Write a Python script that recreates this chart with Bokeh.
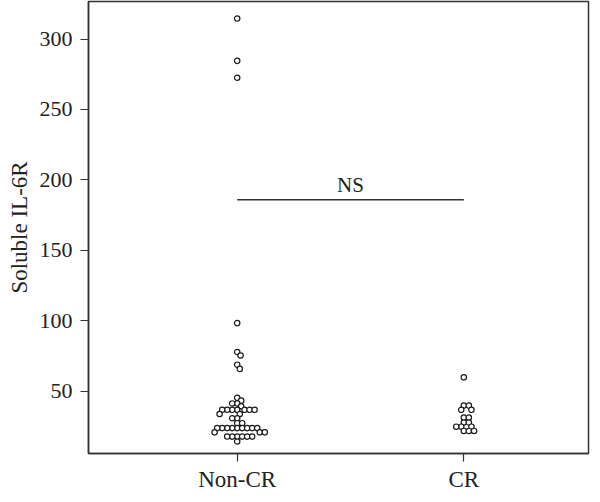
import numpy as np
from bokeh.plotting import figure
from bokeh.models import FixedTicker, ColumnDataSource, Range1d
from bokeh.core.properties import value
from bokeh.embed import file_html
from bokeh.resources import INLINE

# ---- data ----
categories = ["Non-CR", "CR"]
non_cr = [314.5, 284.5, 272.5, 98.5, 78, 75.5, 69, 66,
          45.5, 43.5, 41.5, 41.5, 39.5,
          37, 37, 37, 37, 37, 37, 37,
          34, 34, 31, 31, 27.5, 27.5,
          24, 24, 24, 24, 24, 24, 24, 24, 24,
          21, 21, 21,
          18, 18, 18, 18, 18, 18,
          14.5]
cr = [60, 40, 40, 37, 37, 31.5, 31.5, 28, 28,
      25, 25, 25, 22, 22, 22]
y_ticks = [50, 100, 150, 200, 250, 300]
ns_level = 186
ns_label = "NS"

# ---- layout constants ----
W, H = 590, 494
ML, MR, MT = 88, 2, 1
X0, X1 = 0.344, 2.550
Y0, Y1 = 6.0, 326.6
FRAME_W = W - ML - MR
FRAME_H = 454
XS = FRAME_W / (X1 - X0)
YS = FRAME_H / (Y1 - Y0)
D = 4.9  # marker spacing in px


def swarm(vals):
    placed = []
    offs = []
    for v in vals:
        y = v * YS
        chosen = 0.0
        for step in range(0, 400):
            found = False
            for sgn in (1, -1):
                o = sgn * step * 0.2
                if all((o - px) ** 2 + (y - py) ** 2 >= D * D for px, py in placed):
                    chosen = o
                    found = True
                    break
            if found:
                break
        placed.append((chosen, y))
        offs.append(chosen / XS)
    return offs


xs_all, ys_all = [], []
for i, vals in enumerate([non_cr, cr]):
    offs = swarm(vals)
    xs_all += [i + 1 + o for o in offs]
    ys_all += list(vals)

src = ColumnDataSource(dict(x=xs_all, y=ys_all))

p = figure(width=W, height=H, output_backend="svg", toolbar_location=None,
           x_range=Range1d(X0, X1), y_range=Range1d(Y0, Y1),
           min_border_left=ML, min_border_right=MR, min_border_top=MT, min_border_bottom=30)
p.xgrid.visible = False
p.ygrid.visible = False
p.outline_line_color = "#333333"
p.outline_line_width = 1.5
p.background_fill_color = "white"

FONT = "Liberation Serif"
TXT = "#222222"

p.yaxis.ticker = FixedTicker(ticks=y_ticks)
p.xaxis.ticker = FixedTicker(ticks=[1, 2])
p.xaxis.major_label_overrides = {1: categories[0], 2: categories[1]}
for ax in (p.xaxis, p.yaxis):
    ax.axis_line_color = "#333333"
    ax.axis_line_width = 1.5
    ax.major_tick_line_color = "#333333"
    ax.major_tick_line_width = 1.2
    ax.major_tick_in = 0
    ax.major_tick_out = 8
    ax.minor_tick_line_color = None
    ax.major_label_text_font = FONT
    ax.major_label_text_color = TXT
    ax.axis_label_text_font = FONT
    ax.axis_label_text_color = TXT
    ax.axis_label_text_font_style = "normal"
p.yaxis.major_label_text_font_size = "22px"
p.xaxis.major_label_text_font_size = "23px"
p.yaxis.major_label_standoff = 8
p.xaxis.major_label_standoff = 5
p.yaxis.axis_label = "Soluble IL-6R"
p.yaxis.axis_label_text_font_size = "23px"
p.yaxis.axis_label_standoff = 5

p.line(x=[1, 2], y=[ns_level, ns_level], line_color="#333333", line_width=1.5)
p.text(x=[1.5], y=[196.5], text=[ns_label], text_font=value(FONT),
       text_font_size="21px", text_align="center", text_baseline="alphabetic",
       text_color=TXT)

p.scatter(x="x", y="y", source=src, marker="circle", size=5.4,
          fill_color="white", line_color="#1a1a1a", line_width=1.2)

open("out.html", "w").write(file_html(p, INLINE))
